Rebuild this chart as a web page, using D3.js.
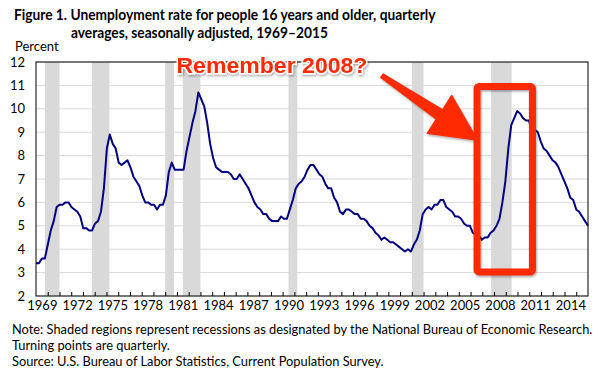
<!DOCTYPE html>
<meta charset="utf-8">
<style>
body { margin: 0; background: #fff; }
text { font-family: Lato, "Liberation Sans", sans-serif; fill: #000; }
.grid line { stroke: #d9d9d9; stroke-width: 1px; }
.recession { fill: #d9d9d9; }
.rate { fill: none; stroke: #000080; stroke-width: 2px; stroke-linejoin: round; }
.frame { fill: none; stroke: #000; stroke-width: 1px; }
.axis path { display: none; }
.axis line { stroke: #000; }
.axis text { font-size: 13px; }
.callout { fill: #ff2a00; }
</style>
<body>
<script src="https://cdn.jsdelivr.net/npm/d3@7"></script>
<script>

var width = 610,
    height = 375,
    margin = {top: 62, right: 22, bottom: 79, left: 36};

var startYear = 1969,
    endYear = 2016;

// quarterly averages, 1969 Q1 .. 2015 Q4
var rate = [
  3.4, 3.4, 3.6, 3.6,   4.2, 4.8, 5.2, 5.8,   5.9, 5.9, 6.0, 6.0,   5.8, 5.7, 5.6, 5.4,
  4.9, 4.9, 4.8, 4.8,   5.1, 5.2, 5.6, 6.6,   8.3, 8.9, 8.5, 8.3,   7.7, 7.6, 7.7, 7.8,
  7.5, 7.1, 6.9, 6.7,   6.3, 6.0, 6.0, 5.9,   5.9, 5.7, 5.9, 5.9,   6.3, 7.3, 7.7, 7.4,
  7.4, 7.4, 7.4, 8.2,   8.8, 9.4, 9.9, 10.7,  10.4, 10.1, 9.4, 8.5, 7.9, 7.5, 7.4, 7.3,
  7.3, 7.3, 7.2, 7.0,   7.0, 7.2, 7.0, 6.8,   6.6, 6.3, 6.0, 5.8,   5.7, 5.5, 5.5, 5.3,
  5.2, 5.2, 5.2, 5.4,   5.3, 5.3, 5.7, 6.1,   6.6, 6.8, 6.9, 7.1,   7.4, 7.6, 7.6, 7.4,
  7.2, 7.1, 6.8, 6.6,   6.6, 6.2, 6.0, 5.6,   5.5, 5.7, 5.7, 5.6,   5.5, 5.5, 5.3, 5.3,
  5.2, 5.0, 4.9, 4.7,   4.6, 4.4, 4.5, 4.4,   4.3, 4.3, 4.2, 4.1,   4.0, 3.9, 4.0, 3.9,
  4.2, 4.4, 4.8, 5.5,   5.7, 5.8, 5.7, 5.9,   5.9, 6.1, 6.1, 5.8,   5.7, 5.6, 5.4, 5.4,
  5.3, 5.1, 5.0, 5.0,   4.7, 4.6, 4.6, 4.4,   4.5, 4.5, 4.7, 4.8,   5.0, 5.3, 6.0, 6.9,
  8.3, 9.3, 9.6, 9.9,   9.8, 9.6, 9.5, 9.5,   9.0, 9.1, 9.0, 8.6,   8.3, 8.2, 8.0, 7.8,
  7.7, 7.5, 7.2, 6.9,   6.6, 6.2, 6.1, 5.7,   5.6, 5.4, 5.2, 5.0
];

// NBER recessions, start and end as fractional years (quarter boundaries)
var recessions = [
  [1969.75, 1971.0], [1973.75, 1975.25], [1980.0, 1980.75], [1981.5, 1983.0],
  [1990.5, 1991.25], [2001.0, 2002.0], [2007.75, 2009.5]
];

var yearLabels = [1969, 1972, 1975, 1978, 1981, 1984, 1987, 1990, 1993, 1996, 1999, 2002, 2005, 2008, 2011, 2014];
var yearTicks = d3.range(1970, 2016);
var yTicks = d3.range(2, 13);

var titleLines = [
  "Figure 1. Unemployment rate for people 16 years and older, quarterly",
  "averages, seasonally adjusted, 1969\u20132015"
];
var noteLines = [
  "Note: Shaded regions represent recessions as designated by the National Bureau of Economic Research.",
  "Turning points are quarterly.",
  "Source: U.S. Bureau of Labor Statistics, Current Population Survey."
];

var svg = d3.select("body").append("svg")
    .attr("width", width)
    .attr("height", height);

var defs = svg.append("defs");
var shadow = defs.append("filter")
    .attr("id", "shadow")
    .attr("x", "-20%").attr("y", "-20%")
    .attr("width", "140%").attr("height", "160%");
shadow.append("feDropShadow")
    .attr("dx", 1).attr("dy", 1.5)
    .attr("stdDeviation", 1.2)
    .attr("flood-color", "#000")
    .attr("flood-opacity", 0.35);

var x = d3.scaleLinear()
    .domain([startYear, endYear])
    .range([margin.left, width - margin.right]);

var xi = d3.scaleLinear()
    .domain([0, rate.length - 1])
    .range([margin.left, width - margin.right]);

var y = d3.scaleLinear()
    .domain([2, 12])
    .range([height - margin.bottom, margin.top]);

// grid
svg.append("g")
    .attr("class", "grid")
  .selectAll("line")
    .data(yTicks)
  .enter().append("line")
    .attr("x1", x(startYear))
    .attr("x2", x(endYear))
    .attr("y1", function(d) { return y(d); })
    .attr("y2", function(d) { return y(d); });

// recession bars
svg.append("g")
  .selectAll("rect")
    .data(recessions)
  .enter().append("rect")
    .attr("class", "recession")
    .attr("x", function(d) { return x(d[0]); })
    .attr("width", function(d) { return x(d[1]) - x(d[0]); })
    .attr("y", y(12))
    .attr("height", y(2) - y(12));

// year ticks (pointing up into the plot)
svg.append("g")
    .attr("class", "axis")
    .attr("transform", "translate(0," + y(2) + ")")
    .call(d3.axisBottom(x).tickValues(yearTicks).tickSize(-4).tickFormat(""));

// year labels, centred on each year
svg.append("g")
    .attr("class", "axis")
    .attr("transform", "translate(0," + y(2) + ")")
    .call(d3.axisBottom(x)
        .tickValues(yearLabels.map(function(d) { return d + 0.5; }))
        .tickSize(0)
        .tickPadding(5)
        .tickFormat(function(d) { return Math.floor(d); }));

svg.append("g")
    .attr("class", "axis")
    .attr("transform", "translate(" + x(startYear) + ",0)")
    .call(d3.axisLeft(y).tickValues(yTicks).tickSize(0).tickPadding(11));

svg.append("path")
    .datum(rate)
    .attr("class", "rate")
    .attr("d", d3.line()
        .x(function(d, i) { return xi(i); })
        .y(function(d) { return y(d); }));

svg.append("rect")
    .attr("class", "frame")
    .attr("x", x(startYear))
    .attr("y", y(12))
    .attr("width", x(endYear) - x(startYear))
    .attr("height", y(2) - y(12));

svg.append("text")
    .attr("x", 15)
    .attr("y", 51)
    .style("font-size", "13px")
    .text("Percent");

// title, squeezed to the width of the original condensed face
var title = svg.append("g");
var t1 = title.append("text")
    .attr("x", 0).attr("y", 0)
    .style("font-size", "15px")
    .style("font-weight", "bold")
    .text(titleLines[0]);
var kt = 422 / t1.node().getComputedTextLength();
t1.attr("transform", "translate(14,20) scale(" + kt + ",1)");
title.append("text")
    .attr("transform", "translate(71,38) scale(" + kt + ",1)")
    .style("font-size", "15px")
    .style("font-weight", "bold")
    .text(titleLines[1]);

// notes
var notes = svg.append("g");
var n1 = notes.append("text")
    .style("font-size", "13px")
    .text(noteLines[0]);
var kn = 581 / n1.node().getComputedTextLength();
notes.selectAll("text.more")
    .data(noteLines.slice(1))
  .enter().append("text")
    .attr("class", "more")
    .style("font-size", "13px")
    .text(function(d) { return d; });
notes.selectAll("text")
    .attr("transform", function(d, i) {
      return "translate(12," + (334 + i * 16) + ") scale(" + kn + ",1)";
    });

// callout: arrow, box and text
var callout = svg.append("g").attr("filter", "url(#shadow)");

var box = [2006.55, 2011.27, 3.03, 10.95];
callout.append("rect")
    .attr("x", x(box[0]))
    .attr("y", y(box[3]))
    .attr("width", x(box[1]) - x(box[0]))
    .attr("height", y(box[2]) - y(box[3]))
    .attr("rx", 2)
    .attr("fill", "none")
    .attr("stroke", "#ff2a00")
    .attr("stroke-width", 7);

var tail = [x(1998.46), y(11.41)],
    tip = [x(2006.57), y(8.67)],
    barbA = [x(2004.39), y(10.56)],
    barbB = [x(2002.32), y(8.95)];
var mid = [(barbA[0] + barbB[0]) / 2, (barbA[1] + barbB[1]) / 2];
var dx = mid[0] - tail[0], dy = mid[1] - tail[1], len = Math.sqrt(dx * dx + dy * dy);
var px = -dy / len, py = dx / len;
var arrow = [
  [tail[0] + px * 2, tail[1] + py * 2],
  [mid[0] + px * 5.5, mid[1] + py * 5.5],
  barbB,
  tip,
  barbA,
  [mid[0] - px * 5.5, mid[1] - py * 5.5],
  [tail[0] - px * 2, tail[1] - py * 2]
];
callout.append("path")
    .attr("class", "callout")
    .attr("stroke", "#ff2a00")
    .attr("stroke-width", 1.5)
    .attr("stroke-linejoin", "round")
    .attr("d", d3.line()(arrow) + "Z");

callout.append("text")
    .attr("x", x(1980.96))
    .attr("y", y(11.55))
    .attr("textLength", 191)
    .attr("lengthAdjust", "spacingAndGlyphs")
    .style("font-family", "'Liberation Sans', Arial, sans-serif")
    .style("font-size", "22px")
    .style("font-weight", "bold")
    .style("fill", "#ff2a00")
    .style("stroke", "#fff")
    .style("stroke-width", 3)
    .style("paint-order", "stroke")
    .text("Remember 2008?");

</script>
